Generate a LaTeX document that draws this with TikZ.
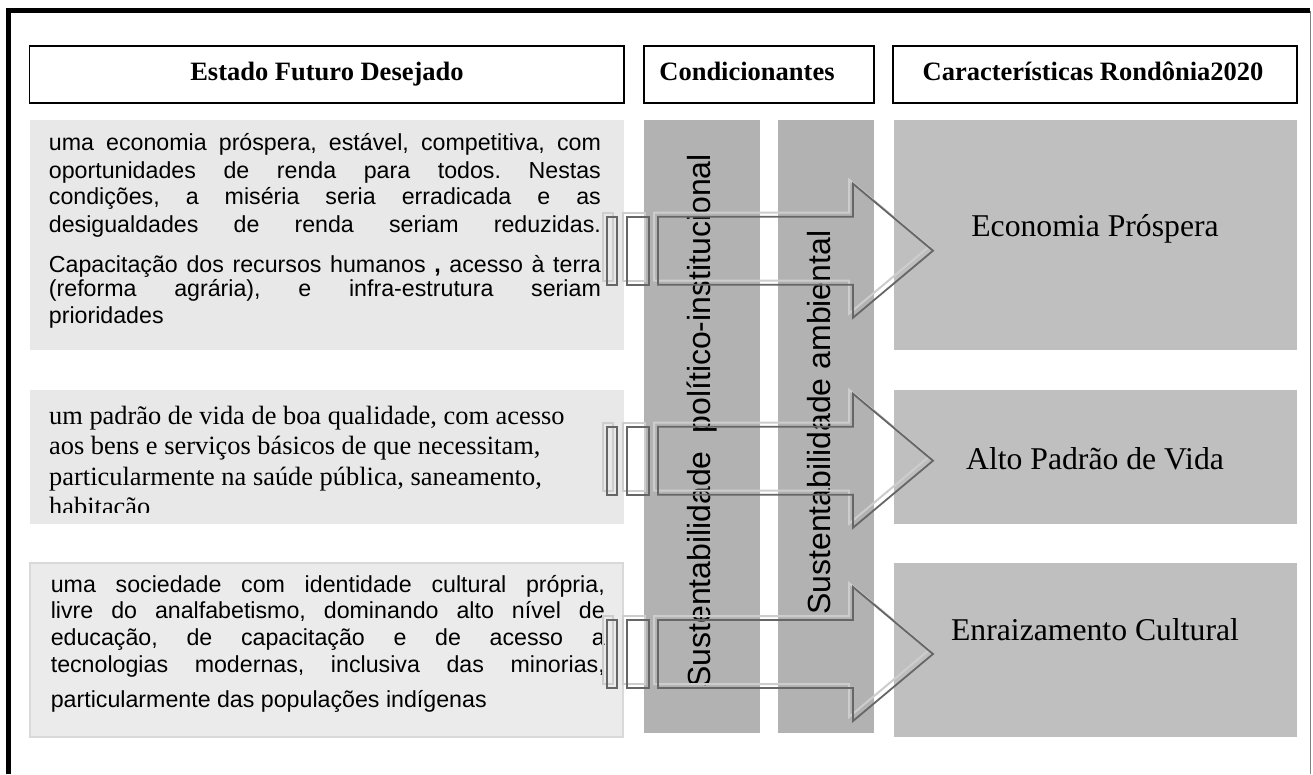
\documentclass[tikz,border=0pt]{standalone}
\usepackage{fontspec}
\setmainfont{Liberation Serif}
\newfontfamily\arsf{Liberation Sans}
\newfontfamily\tnrf{Liberation Serif}
\frenchspacing
\definecolor{boxlight}{HTML}{E8E8E8}
\definecolor{boxlightc}{HTML}{EBEBEB}
\definecolor{boxlinec}{HTML}{D9D9D9}
\definecolor{colgrey}{HTML}{B2B2B2}
\definecolor{rightgrey}{HTML}{BFBFBF}
\definecolor{arrowdark}{HTML}{666666}
\definecolor{arrowghost}{HTML}{CDCDCD}
\definecolor{framegrey}{HTML}{808080}
\tikzset{
  hdrbox/.style={draw=black, line width=1.5pt, fill=white},
  hdrtext/.style={font=\tnrf\bfseries\fontsize{26.5}{30}\selectfont, anchor=base, inner sep=0pt},
  bodyline/.style={font=\arsf\fontsize{23.2}{27}\selectfont, anchor=base west, inner sep=0pt},
  serifline/.style={font=\tnrf\fontsize{26.4}{30}\selectfont, anchor=base west, inner sep=0pt},
  righttext/.style={font=\tnrf\fontsize{31.7}{36}\selectfont, anchor=base, inner sep=0pt},
  vtext/.style={font=\arsf\fontsize{32}{36}\selectfont, anchor=base west, rotate=90, inner sep=0pt},
  ghostline/.style={draw=arrowghost, line width=2pt},
  darkline/.style={draw=arrowdark, line width=1.8pt, line join=miter},
}
\begin{document}
\begin{tikzpicture}[x=1pt,y=-1pt]
\useasboundingbox (0,0) rectangle (1313,774);
\fill[white] (0,0) rectangle (1313,774);
% outer frame
\draw[line width=4.5pt] (8.5,774) -- (8.5,10.5) -- (1310,10.5);
\draw[framegrey, line width=1pt] (1310,10.5) -- (1310,774);
% header boxes
\draw[hdrbox] (29.5,46) rectangle (624,103);
\draw[hdrbox] (644,46) rectangle (874,103);
\draw[hdrbox] (893,46) rectangle (1297,103);
\node[hdrtext] (h1) at (327,80) {Estado Futuro Desejado};
\node[hdrtext] (h2) at (747,80) {Condicionantes};
\node[hdrtext] (h3) at (1093,80) {Características Rondônia2020};
% left boxes
\fill[boxlight] (30,120) rectangle (624,350);
\fill[boxlight] (30,390) rectangle (624,524);
\filldraw[fill=boxlightc, draw=boxlinec, line width=1.2pt] (30,563) rectangle (623,737);
% columns
\fill[colgrey] (644,120) rectangle (760,733);
\fill[colgrey] (778,120) rectangle (874,733);
% right boxes
\fill[rightgrey] (894,120) rectangle (1297,350);
\fill[rightgrey] (894,390) rectangle (1297,524);
\fill[rightgrey] (894,563) rectangle (1297,737);
% box A text
\node[bodyline] (a1) at (48.7,150) {\makebox[552pt][s]{uma economia próspera, estável, competitiva, com}};
\node[bodyline] (a2) at (48.7,178) {\makebox[552pt][s]{oportunidades de renda para todos. Nestas}};
\node[bodyline] (a3) at (48.7,204) {\makebox[552pt][s]{condições, a miséria seria erradicada e as}};
\node[bodyline] (a4) at (48.7,232) {\makebox[552pt][s]{desigualdades de renda seriam reduzidas.}};
\node[bodyline] (a5) at (48.7,272) {\makebox[552pt][s]{Capacitação dos recursos humanos {\bfseries,} acesso à terra}};
\node[bodyline] (a6) at (48.7,296) {\makebox[552pt][s]{(reforma agrária), e infra-estrutura seriam}};
\node[bodyline] (a7) at (48.7,323) {prioridades};
% box B text
\begin{scope}
\clip (30,390) rectangle (624,512.5);
\node[serifline] (b1) at (49,424) {um padrão de vida de boa qualidade, com acesso};
\node[serifline] (b2) at (49,454) {aos bens e serviços básicos de que necessitam,};
\node[serifline] (b3) at (49,485) {particularmente na saúde pública, saneamento,};
\node[serifline] (b4) at (49,515) {habitação};
\end{scope}
% box C text
\node[bodyline] (c1) at (50.6,592) {\makebox[554pt][s]{uma sociedade com identidade cultural própria,}};
\node[bodyline] (c2) at (50.6,618) {\makebox[554pt][s]{livre do analfabetismo, dominando alto nível de}};
\node[bodyline] (c3) at (50.6,645) {\makebox[554pt][s]{educação, de capacitação e de acesso a}};
\node[bodyline] (c4) at (50.6,672) {\makebox[554pt][s]{tecnologias modernas, inclusiva das minorias,}};
\node[bodyline] (c5) at (50.6,707) {particularmente das populações indígenas};
% right texts
\node[righttext] (r1) at (1095,236) {Economia Próspera};
\node[righttext] (r2) at (1095,469) {Alto Padrão de Vida};
\node[righttext] (r3) at (1095,640) {Enraizamento Cultural};
% vertical texts
\node[vtext] (v1) at (710,688) {Sustentabilidade\ \ político-institucional};
\node[vtext] (v2) at (830,615) {Sustentabilidade ambiental};
% arrows
\foreach \yo in {216.7,426.7,620}{
  \begin{scope}[shift={(-4,-4)}]
    \draw[ghostline] (607,\yo) rectangle (617,\yo+68);
    \draw[ghostline] (627,\yo) rectangle (649,\yo+68);
    \draw[ghostline] (658,\yo) -- (853,\yo) -- (853,\yo-33) -- (933,\yo+34) -- (853,\yo+101) -- (853,\yo+68) -- (658,\yo+68) -- cycle;
  \end{scope}
  \draw[darkline] (607,\yo) rectangle (617,\yo+68);
  \draw[darkline] (627,\yo) rectangle (649,\yo+68);
  \draw[darkline] (658,\yo) -- (853,\yo) -- (853,\yo-33) -- (933,\yo+34) -- (853,\yo+101) -- (853,\yo+68) -- (658,\yo+68) -- cycle;
}
\end{tikzpicture}
\end{document}
